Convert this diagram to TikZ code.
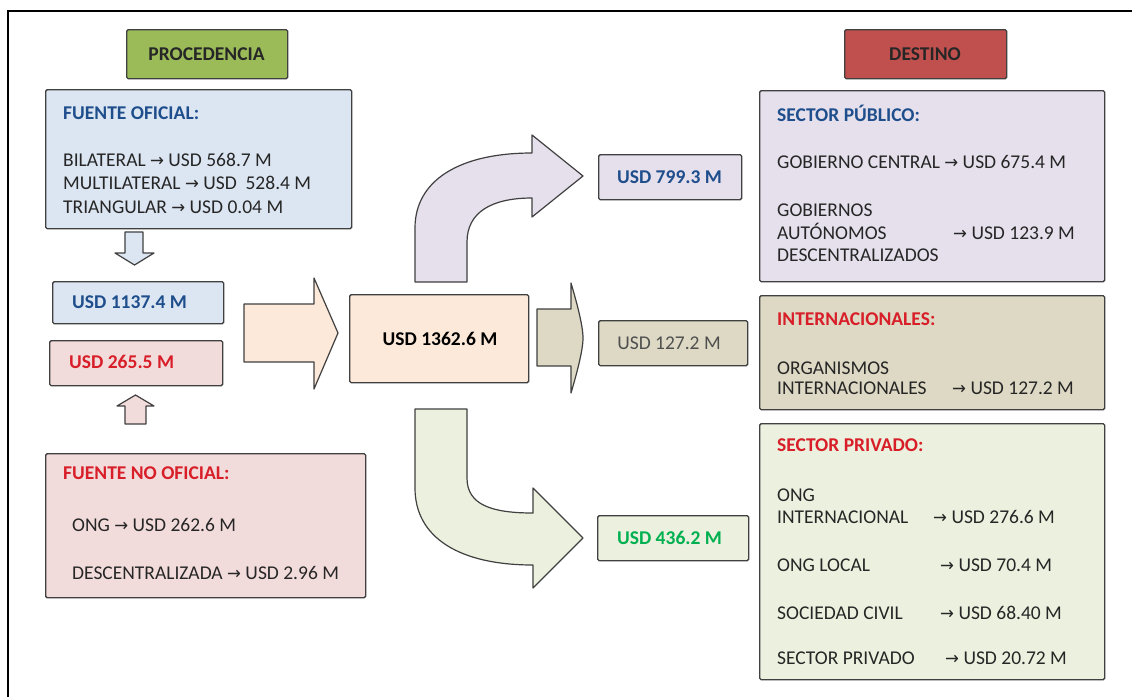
\documentclass[tikz,border=0pt]{standalone}
\usepackage{fontspec}
\setmainfont{Carlito}
\newfontfamily\symfont{DejaVu Sans}
\newcommand{\myarr}{{\symfont\scalebox{0.85}[0.9]{→}}}
\definecolor{hdrgreen}{HTML}{9BBB59}
\definecolor{hdrred}{HTML}{C0504D}
\definecolor{lblue}{HTML}{DCE6F2}
\definecolor{lpink}{HTML}{F2DCDB}
\definecolor{lpeach}{HTML}{FDE9D9}
\definecolor{ltan}{HTML}{DDD9C4}
\definecolor{llav}{HTML}{E5E0EC}
\definecolor{lgreen}{HTML}{EBF1DE}
\definecolor{edge}{HTML}{404040}
\definecolor{tblue}{HTML}{1F4E8C}
\definecolor{tred}{HTML}{D81E28}
\definecolor{tgreen}{HTML}{00B050}
\definecolor{tgray}{HTML}{4F4F4F}
\definecolor{tbody}{HTML}{262626}
\tikzset{
  box/.style={draw=edge, line width=1.4pt, rounded corners=1.5pt, anchor=north west, inner sep=0pt},
  blockarrow/.style={draw=edge, line width=1.2pt, line join=round},
  txt/.style={anchor=base west, inner sep=0pt, font=\fontsize{19.5}{22}\selectfont, text=tbody},
  ttl/.style={anchor=base west, inner sep=0pt, font=\fontsize{19.5}{22}\selectfont\bfseries},
  ctr/.style={anchor=base, inner sep=0pt, font=\fontsize{19.5}{22}\selectfont\bfseries},
}
\begin{document}
\begin{tikzpicture}[x=1pt,y=-1pt]
\useasboundingbox (0,0) rectangle (1132,697);
\fill[white] (0,0) rectangle (1132,697);
% frame (top and left only)
\draw[line width=1.6pt, black] (8,697) -- (8,11) -- (1132,11);

% headers
\node[box, fill=hdrgreen, minimum width=161pt, minimum height=49pt] (proc) at (126,29) {};
\node[ctr, text=tbody] (proct) at (206.5,60) {PROCEDENCIA};
\node[box, fill=hdrred, minimum width=162pt, minimum height=49pt] (dest) at (844,29) {};
\node[ctr, text=tbody] (destt) at (925,60) {DESTINO};

% FUENTE OFICIAL
\node[box, fill=lblue, minimum width=306pt, minimum height=139pt] (fo) at (45,89) {};
\node[ttl, text=tblue] (fot) at (63,119) {FUENTE OFICIAL:};
\node[txt] (fo1) at (63,166) {BILATERAL \myarr\ USD 568.7 M};
\node[txt] (fo2) at (63,189) {MULTILATERAL \myarr\ USD~~528.4 M};
\node[txt] (fo3) at (63,213) {TRIANGULAR \myarr\ USD 0.04 M};

% small down arrow
\draw[blockarrow, fill=lblue] (125,232) -- (143,232) -- (143,253) -- (154,253) -- (134.5,265) -- (115,253) -- (125,253) -- cycle;

% USD 1137.4
\node[box, fill=lblue, minimum width=171pt, minimum height=42pt] (a1) at (52,281) {};
\node[ttl, text=tblue] (a1t) at (72,308) {USD 1137.4 M};
% USD 265.5
\node[box, fill=lpink, minimum width=173pt, minimum height=45pt] (a2) at (49,340) {};
\node[ttl, text=tred] (a2t) at (69,368) {USD 265.5 M};

% small up arrow
\draw[blockarrow, fill=lpink] (125,424) -- (146,424) -- (146,406) -- (154,406) -- (135.5,395) -- (117,406) -- (125,406) -- cycle;

% FUENTE NO OFICIAL
\node[box, fill=lpink, minimum width=320pt, minimum height=144pt] (fno) at (45,453) {};
\node[ttl, text=tred] (fnot) at (63,479) {FUENTE NO OFICIAL:};
\node[txt] (fno1) at (72,531) {ONG \myarr\ USD 262.6 M};
\node[txt] (fno2) at (72,579) {DESCENTRALIZADA \myarr\ USD 2.96 M};

% big peach arrow
\draw[blockarrow, fill=lpeach] (244,304) -- (314,304) -- (314,278) -- (338,333) -- (314,389) -- (314,362) -- (244,362) -- cycle;

% center box
\node[box, fill=lpeach, minimum width=179pt, minimum height=88pt] (ctrbox) at (349,294) {};
\node[ctr, text=black] (ctrt) at (440,345) {USD 1362.6 M};

% tan arrow
\draw[blockarrow, fill=ltan] (537,309) -- (571,309) -- (571,283) .. controls (576,300) and (583,325) .. (583,338) .. controls (583,351) and (576,376) .. (571,393) -- (571,366) -- (537,366) -- cycle;

% curved up arrow (lavender)
\draw[blockarrow, fill=llav] (415,282) -- (415,228) .. controls (415,180) and (460,153) .. (532,153) -- (532,135) -- (583,176) -- (532,217) -- (532,198) .. controls (492,198) and (467,212) .. (467,242) -- (467,282) -- cycle;

% curved down arrow (green)
\draw[blockarrow, fill=lgreen] (415,409) -- (415,488) .. controls (415,538) and (460,565) .. (533,565) -- (533,588) -- (583,538) -- (533,488) -- (533,513) .. controls (492,513) and (467,505) .. (467,478) -- (467,409) -- cycle;

% middle result boxes
\node[box, fill=llav, minimum width=143pt, minimum height=45pt] (r1) at (598,154) {};
\node[ctr, text=tblue] (r1t) at (669.5,183) {USD 799.3 M};
\node[box, fill=ltan, minimum width=149pt, minimum height=45pt] (r2) at (598,320) {};
\node[ctr, text=tgray, font=\fontsize{19.5}{22}\selectfont] (r2t) at (669,349) {USD 127.2 M};
\node[box, fill=lgreen, minimum width=151pt, minimum height=45pt] (r3) at (597,515) {};
\node[ctr, text=tgreen] (r3t) at (669.5,544) {USD 436.2 M};

% SECTOR PUBLICO
\node[box, fill=llav, minimum width=345pt, minimum height=191pt] (sp) at (759,90) {};
\node[ttl, text=tblue] (spt) at (777,121) {SECTOR PÚBLICO:};
\node[txt] (sp1) at (777,168) {GOBIERNO CENTRAL \myarr\ USD 675.4 M};
\node[txt] (sp2) at (777,216) {GOBIERNOS};
\node[txt] (sp3) at (777,239) {AUTÓNOMOS};
\node[txt] (sp3b) at (953,239) {\myarr\ USD 123.9 M};
\node[txt] (sp4) at (777,261) {DESCENTRALIZADOS};

% INTERNACIONALES
\node[box, fill=ltan, minimum width=345pt, minimum height=114pt] (in) at (759,295) {};
\node[ttl, text=tred] (int) at (777,325) {INTERNACIONALES:};
\node[txt] (in1) at (777,374) {ORGANISMOS};
\node[txt] (in2) at (777,394) {INTERNACIONALES};
\node[txt] (in2b) at (952,394) {\myarr\ USD 127.2 M};

% SECTOR PRIVADO
\node[box, fill=lgreen, minimum width=345pt, minimum height=256pt] (pv) at (759,423) {};
\node[ttl, text=tred] (pvt) at (777,451) {SECTOR PRIVADO:};
\node[txt] (pv1) at (777,501) {ONG};
\node[txt] (pv2) at (777,523) {INTERNACIONAL};
\node[txt] (pv2b) at (933,523) {\myarr\ USD 276.6 M};
\node[txt] (pv3) at (777,571) {ONG LOCAL};
\node[txt] (pv3b) at (940,571) {\myarr\ USD 70.4 M};
\node[txt] (pv4) at (777,619) {SOCIEDAD CIVIL};
\node[txt] (pv4b) at (940,619) {\myarr\ USD 68.40 M};
\node[txt] (pv5) at (777,664) {SECTOR PRIVADO};
\node[txt] (pv5b) at (945,664) {\myarr\ USD 20.72 M};
\end{tikzpicture}
\end{document}
